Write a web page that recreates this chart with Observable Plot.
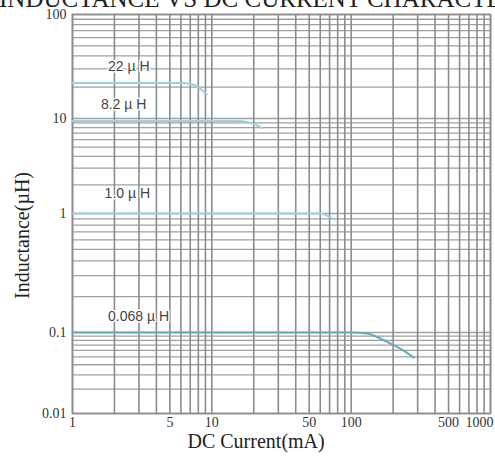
<!DOCTYPE html>
<html>
<head>
<meta charset="utf-8">
<script src="https://cdn.jsdelivr.net/npm/d3@7"></script>
<script src="https://cdn.jsdelivr.net/npm/@observablehq/plot@0.6"></script>
<style>
  html, body { margin: 0; padding: 0; background: #fff; }
  #wrap { position: relative; width: 495px; height: 458px; overflow: hidden; }
  #title { position: absolute; top: -14px; left: -1px; font: 25px "Liberation Serif", serif; line-height: 26px; white-space: nowrap; color: #222; }
  #chart { position: absolute; top: 0; left: 0; }
</style>
</head>
<body>
<div id="wrap">
  <div id="chart"></div>
  <div id="title">INDUCTANCE VS DC CURRENT CHARACTERISTICS</div>
</div>
<script>
// ---- data ----
const seriesNames = ["22 µ H", "8.2 µ H", "1.0 µ H", "0.068 µ H"];
const current22 = [1, 2, 4, 6, 7, 8, 8.6, 9.2];
const induct22  = [22, 22, 22, 22, 21.6, 20, 18.5, 17];
const current82 = [1, 5, 10, 15, 18, 21, 23];
const induct82  = [9.4, 9.4, 9.4, 9.4, 9.2, 8.5, 7.9];
const current10 = [1, 10, 40, 60, 66, 72, 76];
const induct10  = [1, 1, 1, 1, 0.97, 0.92, 0.89];
const current068 = [1, 10, 50, 100, 130, 160, 185, 230, 282];
const induct068  = [0.1, 0.1, 0.1, 0.1, 0.097, 0.085, 0.075, 0.062, 0.049];
const seriesColors = ["#9ccfe2", "#9ccfe2", "#9ccfe2", "#63adbb"];

// series label anchors (current, inductance)
const labelCurrent = [1.8, 1.6, 1.7, 1.8];
const labelInduct  = [31.6, 13.6, 1.62, 0.136];

const xTicks = [1, 5, 10, 50, 100, 500];
const xLastTick = [1000];
const yTicks = [0.01, 0.1, 1, 10, 100];
const xGrid = [1,2,3,4,5,6,7,8,9,10,20,30,40,50,60,70,80,90,100,200,300,400,500,600,700,800,900,1000];
const yGrid = [0.01,0.02,0.03,0.04,0.05,0.06,0.07,0.08,0.09,0.1,0.2,0.3,0.4,0.5,0.6,0.7,0.8,0.9,1,2,3,4,5,6,7,8,9,10,20,30,40,50,60,70,80,90,100];

// ---- build table ----
const curves = [[current22, induct22], [current82, induct82], [current10, induct10], [current068, induct068]];
const rows = [];
curves.forEach(([xs, ys], i) => xs.forEach((x, j) => rows.push({series: seriesNames[i], current: x, inductance: ys[j]})));
const labels = seriesNames.map((s, i) => ({series: s, current: labelCurrent[i], inductance: labelInduct[i]}));

const serif = "Liberation Serif, Times New Roman, serif";
const sans = "Liberation Sans, Arial, sans-serif";

const chart = Plot.plot({
  width: 495,
  height: 458,
  marginTop: 14,
  marginBottom: 45,
  marginLeft: 72,
  marginRight: 5,
  style: {background: "white", overflow: "visible"},
  x: {type: "log", domain: [1, 1000], range: [72, 490], axis: null},
  y: {type: "log", domain: [0.01, 0.1, 1, 10, 100], range: [413, 332, 213, 118, 14], axis: null},
  color: {domain: seriesNames, range: seriesColors},
  marks: [
    Plot.ruleY(yGrid, {y: d => d, stroke: "#a0a0a0", strokeWidth: 1.3}),
    Plot.ruleX(xGrid, {x: d => d, stroke: "#8c8c8c", strokeWidth: 1.6}),
    Plot.frame({stroke: "#8c8c8c", strokeWidth: 1.6}),
    Plot.line(rows, {x: "current", y: "inductance", z: "series", stroke: "series", strokeWidth: 2, curve: "monotone-x"}),
    Plot.text(labels, {x: "current", y: "inductance", text: "series", textAnchor: "start", fill: "#444", fontFamily: sans, fontSize: 14, stroke: "white", strokeWidth: 3}),
    Plot.text(xTicks, {x: d => d, frameAnchor: "bottom", dy: 13, text: d => String(d), fill: "#333", fontFamily: serif, fontSize: 14}),
    Plot.text(xLastTick, {x: d => d, frameAnchor: "bottom", dy: 13, dx: 3, textAnchor: "end", text: d => String(d), fill: "#333", fontFamily: serif, fontSize: 14}),
    Plot.text(yTicks, {y: d => d, frameAnchor: "left", dx: -6, textAnchor: "end", text: d => String(d), fill: "#333", fontFamily: serif, fontSize: 14}),
    Plot.text(["DC Current(mA)"], {frameAnchor: "bottom", dx: -94, dy: 34, textAnchor: "start", fill: "#222", fontFamily: serif, fontSize: 20, ariaLabel: "xlabel"}),
    Plot.text(["Inductance(µH)"], {frameAnchor: "left", dx: -50, dy: 85, rotate: -90, textAnchor: "start", fill: "#222", fontFamily: serif, fontSize: 20, ariaLabel: "ylabel"})
  ]
});
document.getElementById("chart").appendChild(chart);
// stretch the axis titles to the reference's proportions
d3.select(chart).selectAll('g[aria-label="xlabel"] text').attr("textLength", 156).attr("lengthAdjust", "spacingAndGlyphs");
d3.select(chart).selectAll('g[aria-label="ylabel"] text').attr("textLength", 182).attr("lengthAdjust", "spacingAndGlyphs");
</script>
</body>
</html>
